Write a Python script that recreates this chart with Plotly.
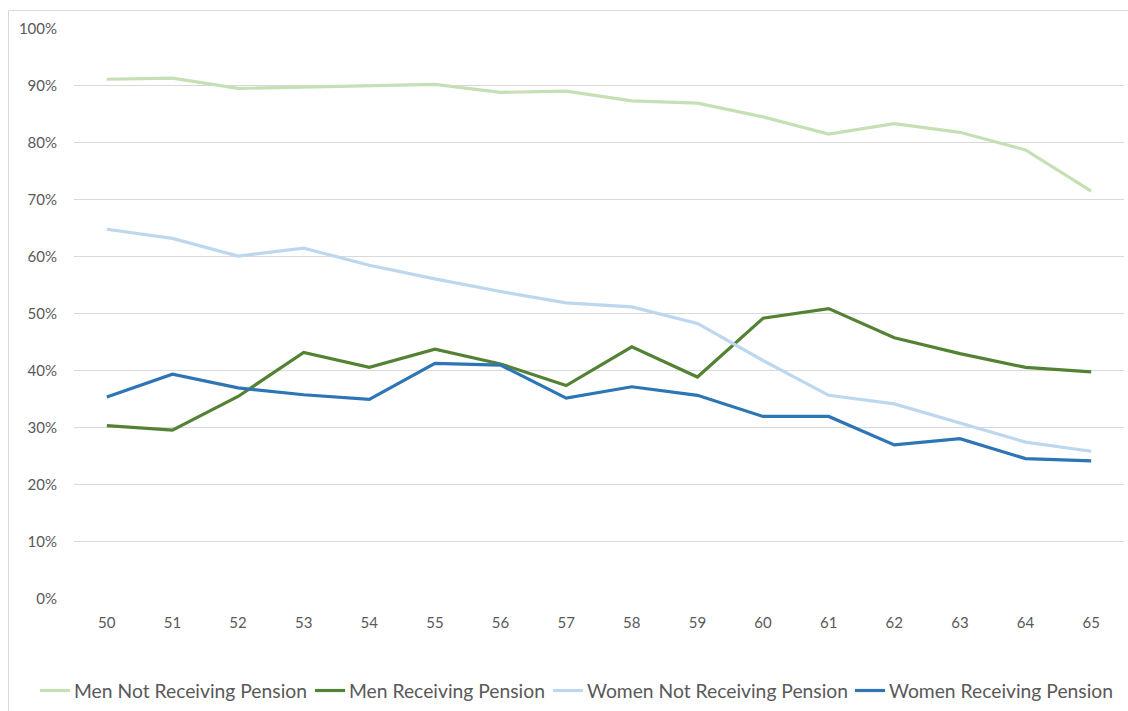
import plotly.graph_objects as go

# Age at which the share is measured
ages = [50, 51, 52, 53, 54, 55, 56, 57, 58, 59, 60, 61, 62, 63, 64, 65]

# Shares (fractions) for each group by age
men_not_receiving = [0.911, 0.913, 0.895, 0.897, 0.899, 0.902, 0.888, 0.890, 0.873, 0.869,
                     0.845, 0.815, 0.833, 0.818, 0.787, 0.715]
men_receiving = [0.304, 0.296, 0.355, 0.432, 0.406, 0.438, 0.412, 0.374, 0.442, 0.389,
                 0.492, 0.509, 0.458, 0.430, 0.406, 0.398]
women_not_receiving = [0.648, 0.632, 0.601, 0.615, 0.585, 0.561, 0.539, 0.519, 0.512, 0.483,
                       0.418, 0.357, 0.342, 0.309, 0.275, 0.259]
women_receiving = [0.354, 0.394, 0.370, 0.358, 0.350, 0.413, 0.410, 0.352, 0.372, 0.357,
                   0.320, 0.320, 0.270, 0.281, 0.246, 0.242]

series_names = ["Men Not Receiving Pension", "Men Receiving Pension",
                "Women Not Receiving Pension", "Women Receiving Pension"]
series_values = [men_not_receiving, men_receiving, women_not_receiving, women_receiving]
series_colors = ["#C5E0B4", "#548235", "#BDD7EE", "#2E75B6"]

y_ticks = [0.0, 0.1, 0.2, 0.3, 0.4, 0.5, 0.6, 0.7, 0.8, 0.9, 1.0]
y_tick_labels = ["0%", "10%", "20%", "30%", "40%", "50%", "60%", "70%", "80%", "90%", "100%"]

FONT = "Lato"
TEXT_COLOR = "#595959"
GRID_COLOR = "#D9D9D9"
LINE_WIDTH = 3.2

W, H = 1128, 711
M_L, M_R, M_T, M_B = 74, 4, 28, 112
PLOT_W = W - M_L - M_R
PLOT_H = H - M_T - M_B


def px_x(px):
    """Canvas pixel column -> paper x."""
    return (px - M_L) / PLOT_W


def px_y(py):
    """Canvas pixel row -> paper y."""
    return (H - M_B - py) / PLOT_H


fig = go.Figure()
for name, vals, color in zip(series_names, series_values, series_colors):
    fig.add_trace(go.Scatter(
        x=[str(a) for a in ages], y=vals, name=name, mode="lines",
        line=dict(color=color, width=LINE_WIDTH), showlegend=False,
    ))

# Legend row drawn under the plot: short line key followed by its label
legend_key_left = [40, 315, 553, 855]
legend_row_y = 690.5
shapes = [
    # chart frame (left and top edges fall inside the canvas)
    dict(type="rect", xref="paper", yref="paper",
         x0=px_x(8.5), x1=px_x(1140), y0=px_y(725), y1=px_y(10.5),
         line=dict(color="#D9D9D9", width=1), layer="below"),
]
annotations = []
for name, color, left in zip(series_names, series_colors, legend_key_left):
    shapes.append(dict(
        type="line", xref="paper", yref="paper",
        x0=px_x(left), x1=px_x(left + 30), y0=px_y(legend_row_y), y1=px_y(legend_row_y),
        line=dict(color=color, width=LINE_WIDTH),
    ))
    annotations.append(dict(
        text=name, xref="paper", yref="paper",
        x=px_x(left + 32), y=px_y(legend_row_y), xanchor="left", yanchor="middle",
        showarrow=False, font=dict(family=FONT, size=19.3, color=TEXT_COLOR),
    ))

fig.update_layout(
    width=W, height=H,
    margin=dict(l=M_L, r=M_R, t=M_T, b=M_B),
    paper_bgcolor="white", plot_bgcolor="white",
    font=dict(family=FONT, color=TEXT_COLOR, size=15),
    showlegend=False,
    xaxis=dict(
        type="category", showgrid=False, zeroline=False, showline=False,
        ticks="", tickfont=dict(size=15), ticklabelstandoff=13,
        range=[-0.5, len(ages) - 0.5],
    ),
    yaxis=dict(
        range=[0, 1.0008], tickvals=y_ticks, ticktext=y_tick_labels,
        showgrid=True, gridcolor=GRID_COLOR, gridwidth=1,
        zeroline=False, showline=False, ticks="",
        tickfont=dict(size=15), ticklabelstandoff=16,
    ),
    shapes=shapes,
    annotations=annotations,
)

fig.write_html("out.html")
